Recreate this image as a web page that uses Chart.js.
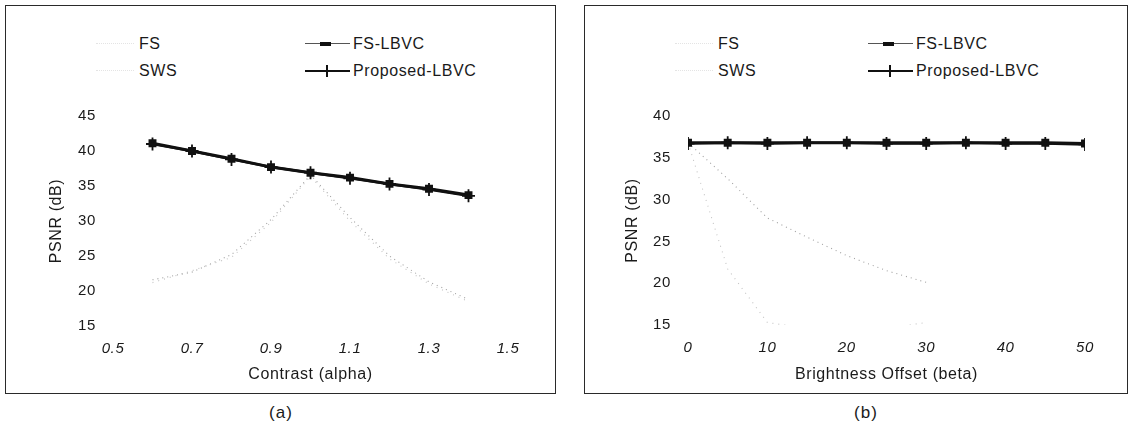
<!DOCTYPE html>
<html>
<head>
<meta charset="utf-8">
<script src="https://cdn.jsdelivr.net/npm/chart.js"></script>
<style>
  body { margin: 0; width: 1132px; height: 432px; background: #fff; position: relative; overflow: hidden;
         font-family: "Liberation Sans", Arial, sans-serif; color: #1a1a1a; }
  .frame { position: absolute; border: 1.5px solid #2a2a2a; box-sizing: border-box; }
  .box { position: absolute; width: 520px; height: 300px; top: 90px; }
  .caption { position: absolute; top: 403px; font-size: 17px; transform: translateX(-50%); letter-spacing: 1px; }
  .item { position: absolute; height: 20px; display: flex; align-items: center; font-size: 16px; letter-spacing: 0.6px; }
  .sample { position: absolute; height: 12px; }
  .sample::before { content: ""; position: absolute; left: 0; right: 0; top: 5px; }
  .dots::before { border-top: 1px dotted #e4e4e4; }
  .rect::before { border-top: 1.5px solid #555; }
  .rect::after { content: ""; position: absolute; left: 15px; width: 11px; height: 4px; top: 4px; background: #111; }
  .cross::before { border-top: 2px solid #111; top: 5px; }
  .cross::after { content: ""; position: absolute; left: 21px; width: 1.6px; height: 12px; top: 0; background: #111; }
</style>
</head>
<body>

<div class="frame" style="left:5px; top:5px; width:551px; height:389px;"></div>
<div class="frame" style="left:584px; top:5px; width:544px; height:389px;"></div>

<!-- legend (a) -->
<div class="sample dots" style="left:96px; top:38px; width:38px;"></div>
<div class="item" style="left:139px; top:34px;">FS</div>
<div class="sample rect" style="left:305px; top:38px; width:45px;"></div>
<div class="item" style="left:353px; top:34px;">FS-LBVC</div>
<div class="sample dots" style="left:96px; top:65px; width:38px;"></div>
<div class="item" style="left:139px; top:61px;">SWS</div>
<div class="sample cross" style="left:305px; top:65px; width:45px;"></div>
<div class="item" style="left:353px; top:61px;">Proposed-LBVC</div>

<!-- legend (b) -->
<div class="sample dots" style="left:675px; top:38px; width:38px;"></div>
<div class="item" style="left:718px; top:34px;">FS</div>
<div class="sample rect" style="left:868px; top:38px; width:45px;"></div>
<div class="item" style="left:916px; top:34px;">FS-LBVC</div>
<div class="sample dots" style="left:675px; top:65px; width:38px;"></div>
<div class="item" style="left:718px; top:61px;">SWS</div>
<div class="sample cross" style="left:868px; top:65px; width:45px;"></div>
<div class="item" style="left:916px; top:61px;">Proposed-LBVC</div>

<div class="box" style="left:20px;"><canvas id="grafA"></canvas></div>
<div class="box" style="left:600px;"><canvas id="grafB"></canvas></div>

<div class="caption" style="left:281px;">(a)</div>
<div class="caption" style="left:866px;">(b)</div>

<script>
// (a) contraste
const alphaValues = [0.6, 0.7, 0.8, 0.9, 1.0, 1.1, 1.2, 1.3, 1.4];
const fsA       = [21.6, 22.7, 25.2, 30.2, 36.6, 30.5, 25.0, 21.3, 18.8];
const swsA      = [21.2, 22.9, 24.8, 29.8, 36.4, 30.0, 24.6, 21.0, 18.5];
const fsLbvcA   = [41.1, 40.0, 38.9, 37.7, 36.9, 36.2, 35.3, 34.6, 33.7];
const proposedA = [41.0, 40.0, 38.8, 37.7, 36.9, 36.1, 35.3, 34.5, 33.6];

// (b) brilho
const betaValues = [0, 5, 10, 15, 20, 25, 30, 35, 40, 45, 50];
const fsB       = [36.8, 32.5, 27.8, 25.5, 23.3, 21.5, 20.1, null, null, null, null];
const swsB      = [36.8, 21.7, 15.3, 14.6, 14.4, 14.6, 15.3, null, null, null, null];
const fsLbvcB   = [36.8, 36.8, 36.8, 36.8, 36.8, 36.8, 36.8, 36.8, 36.8, 36.8, 36.7];
const proposedB = [36.7, 36.8, 36.7, 36.8, 36.8, 36.7, 36.7, 36.8, 36.7, 36.7, 36.6];

const ink = '#1a1a1a';
const fontFamily = '"Liberation Sans", Arial, sans-serif';

// espaçamento das letras, como no original escaneado
const spacingPlugin = {
    id: 'spacing',
    beforeDraw(chart) { chart.ctx.letterSpacing = '0.6px'; }
};

function pontos(xs, ys) {
    return xs.map((x, i) => ({ x: x, y: ys[i] }));
}

function criarGrafico(canvasId, xs, series, cfg) {
    const ctx = document.getElementById(canvasId).getContext('2d');
    return new Chart(ctx, {
        type: 'line',
        data: {
            datasets: [
                { label: 'FS', data: pontos(xs, series[0]), borderColor: '#a0a0a0', borderWidth: 1.1,
                  borderDash: [1, 4], pointRadius: 0, order: 4 },
                { label: 'SWS', data: pontos(xs, series[1]), borderColor: '#c4c4c4', borderWidth: 1.1,
                  borderDash: [1, 5], pointRadius: 0, order: 3 },
                { label: 'FS-LBVC', data: pontos(xs, series[2]), borderColor: '#111', backgroundColor: '#111',
                  borderWidth: 3, pointStyle: 'rect', pointRadius: 3.5, order: 2 },
                { label: 'Proposed-LBVC', data: pontos(xs, series[3]), borderColor: '#111', backgroundColor: '#111',
                  borderWidth: 2.5, pointStyle: 'cross', pointRadius: 6.5, pointBorderWidth: 1.8, order: 1 }
            ]
        },
        options: {
            responsive: true,
            maintainAspectRatio: false,
            animation: false,
            layout: { padding: { top: 23, right: cfg.padRight, bottom: 0, left: 0 } },
            plugins: { legend: { display: false }, tooltip: { enabled: false } },
            scales: {
                x: {
                    type: 'linear', min: cfg.xMin, max: cfg.xMax,
                    grid: { display: false, drawTicks: false }, border: { display: false },
                    ticks: { stepSize: cfg.xStep, padding: 14, color: ink,
                             font: { family: fontFamily, size: 15, style: 'italic' }, callback: cfg.xFormat },
                    title: { display: true, text: cfg.xTitle, color: ink, padding: { top: 0, bottom: 6 },
                             font: { family: fontFamily, size: 16 } },
                    afterFit: s => { s.height = cfg.xHeight; }
                },
                y: {
                    min: 15, max: cfg.yMax,
                    grid: { display: false, drawTicks: false }, border: { display: false },
                    ticks: { stepSize: 5, padding: 17, color: ink, font: { family: fontFamily, size: 15 } },
                    title: { display: true, text: 'PSNR (dB)', color: ink, padding: { top: cfg.yTitlePad, bottom: 0 },
                             font: { family: fontFamily, size: 16 } },
                    afterFit: s => { s.width = cfg.yWidth; }
                }
            }
        },
        plugins: [spacingPlugin]
    });
}

criarGrafico('grafA', alphaValues, [fsA, swsA, fsLbvcA, proposedA], {
    xMin: 0.5, xMax: 1.5, xStep: 0.2, xFormat: v => v.toFixed(1), xTitle: 'Contrast (alpha)',
    yMax: 45, padRight: 32, xHeight: 64, yWidth: 93, yTitlePad: 27
});

criarGrafico('grafB', betaValues, [fsB, swsB, fsLbvcB, proposedB], {
    xMin: 0, xMax: 50, xStep: 10, xFormat: v => v, xTitle: 'Brightness Offset (beta)',
    yMax: 40, padRight: 35, xHeight: 65, yWidth: 88, yTitlePad: 23
});
</script>
</body>
</html>
